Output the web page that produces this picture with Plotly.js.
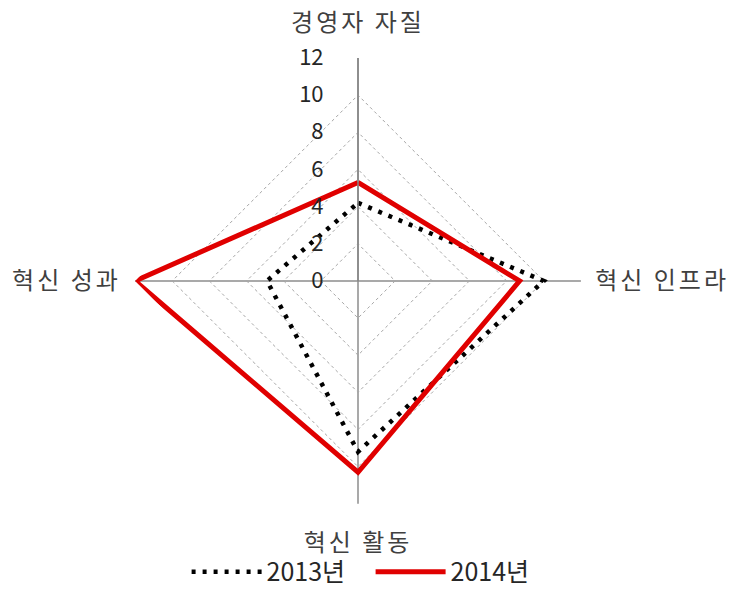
<!DOCTYPE html>
<html><head><meta charset="utf-8">
<script src="https://cdn.plot.ly/plotly-3.0.1.min.js"></script>
<style>html,body{margin:0;padding:0;background:#fff}#chart{width:731px;height:595px}
.angularaxistick text{letter-spacing:3px}
</style>
</head><body><div id="chart"></div>
<script>
const categories = ['경영자 자질', '혁신 인프라', '혁신 활동', '혁신 성과'];
const series2013 = [4.2, 10.0, 9.2, 4.9];
const series2014 = [5.3, 8.7, 10.3, 12.0];
const seriesNames = ['2013년', '2014년'];
const radialTicks = [0, 2, 4, 6, 8, 10, 12];

function closed(a){ return a.concat([a[0]]); }

const traces = [
  {type:'scatterpolar', mode:'lines', name:seriesNames[0],
   r: closed(series2013), theta: closed(categories),
   line:{color:'#000000', width:4.5, dash:'4px,7px'}},
  {type:'scatterpolar', mode:'lines', name:seriesNames[1],
   r: closed(series2014), theta: closed(categories),
   line:{color:'#e00000', width:5}}
];

const layout = {
  width:731, height:595,
  margin:{l:133, r:148, t:58, b:0},
  paper_bgcolor:'#fff',
  font:{family:'"Noto Sans CJK KR", "Noto Sans", sans-serif', color:'#404040'},
  showlegend:true,
  legend:{orientation:'h', x:0.528, xanchor:'center', y:0.034, yanchor:'middle',
          bgcolor:'rgba(0,0,0,0)',
          itemwidth:70, entrywidth:99, entrywidthmode:'pixels',
          font:{size:25, color:'#262626'}},
  polar:{
    domain:{x:[0,1], y:[0.162,1]},
    bgcolor:'rgba(0,0,0,0)',
    gridshape:'linear',
    radialaxis:{range:[0,12], tickvals:radialTicks, angle:90, tickangle:90,
      showline:true, linecolor:'#868686', linewidth:1.5,
      gridcolor:'#a6a6a6', griddash:'dot', gridwidth:1,
      ticks:'outside', ticklen:26, tickcolor:'rgba(0,0,0,0)',
      tickfont:{size:22, color:'#262626'}, side:'counterclockwise'},
    angularaxis:{rotation:90, direction:'clockwise', showline:false,
      gridcolor:'#8c8c8c', gridwidth:1.5,
      ticks:'outside', ticklen:9, tickcolor:'rgba(0,0,0,0)',
      tickfont:{size:24, color:'#404040'}}
  }
};
Plotly.newPlot('chart', traces, layout, {displayModeBar:false, staticPlot:true}).then(function(gd){
  // nudge the top and bottom category labels a little further from the chart
  const shifts = {};
  shifts[categories[0]] = -8;
  shifts[categories[2]] = 9;
  gd.querySelectorAll('.angularaxistick text').forEach(function(t){
    const s = shifts[t.textContent];
    if (s) {
      const tr = t.getAttribute('transform') || '';
      t.setAttribute('transform', 'translate(0,' + s + ') ' + tr);
    }
  });
});
</script></body></html>
